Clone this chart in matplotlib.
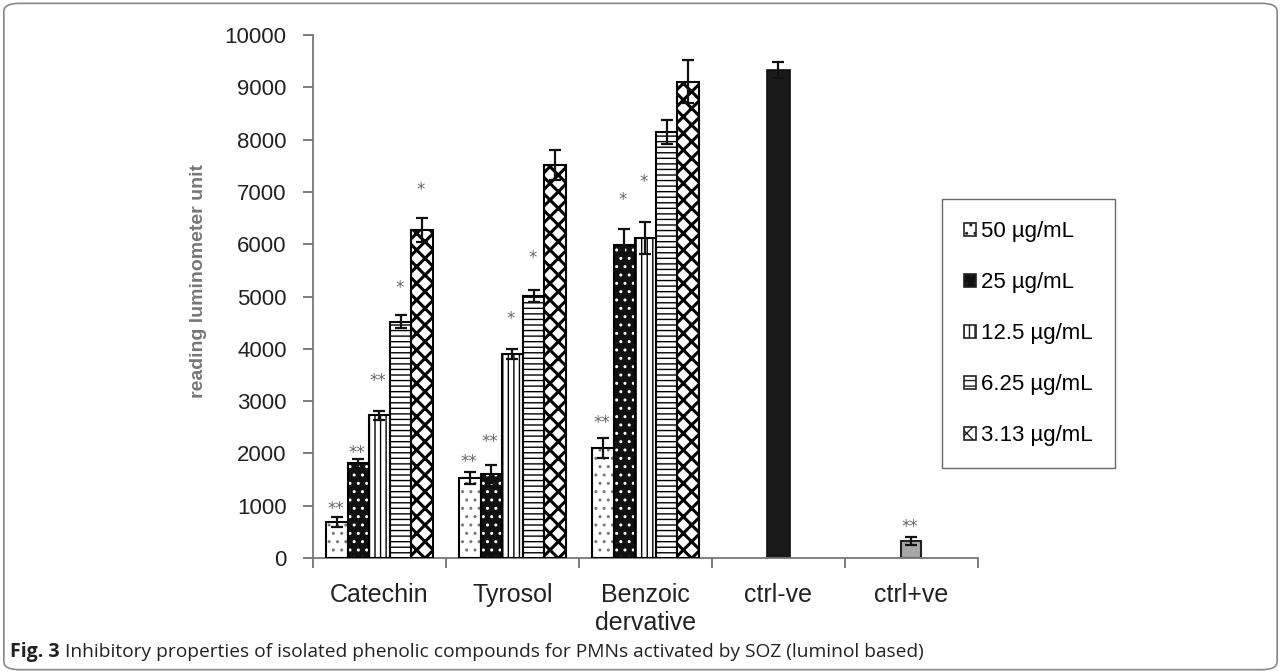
import numpy as np
import matplotlib
matplotlib.use("Agg")
import matplotlib.pyplot as plt
from matplotlib.patches import FancyBboxPatch, Rectangle

plt.rcParams['font.family'] = ['Liberation Sans', 'DejaVu Sans']

categories = ["Catechin", "Tyrosol", "Benzoic\ndervative", "ctrl-ve", "ctrl+ve"]
concs = ["50 µg/mL", "25 µg/mL", "12.5 µg/mL", "6.25 µg/mL", "3.13 µg/mL"]

# values for Catechin, Tyrosol, Benzoic dervative
v50 = [690, 1530, 2100]
v25 = [1810, 1610, 5980]
v12 = [2730, 3900, 6120]
v6 = [4520, 5010, 8150]
v3 = [6270, 7510, 9110]
e50 = [100, 110, 190]
e25 = [80, 170, 320]
e12 = [85, 95, 300]
e6 = [120, 115, 230]
e3 = [230, 285, 410]
ctrl_neg, ctrl_neg_err = 9330, 160
ctrl_pos, ctrl_pos_err = 325, 70

# significance marks: (category, concentration index, text, y)
stars = [(0, 0, "**", 940), (0, 1, "**", 2010), (0, 2, "**", 3380), (0, 3, "*", 5160), (0, 4, "*", 7030),
         (1, 0, "**", 1840), (1, 1, "**", 2220), (1, 2, "*", 4570), (1, 3, "*", 5740),
         (2, 0, "**", 2580), (2, 1, "*", 6850), (2, 2, "*", 7190),
         (4, None, "**", 590)]

vals = [v50, v25, v12, v6, v3]
errs = [e50, e25, e12, e6, e3]
styles = [dict(fc="white", hatch="..", hc="#777777"),
          dict(fc="#111111", hatch="..", hc="white"),
          dict(fc="white", hatch="|||", hc="black"),
          dict(fc="white", hatch="---", hc="black"),
          dict(fc="white", hatch="xx", hc="black")]

fig = plt.figure(figsize=(12.81, 6.71), dpi=100)
fig.patches.append(FancyBboxPatch((0.003, 0.002), 0.994, 0.993, boxstyle="round,pad=0,rounding_size=0.012",
                                  transform=fig.transFigure, fc="none", ec="#888888", lw=1.2))
ax = fig.add_axes([0.2443, 0.1684, 0.5191, 0.7794])

w = 0.16
gx = np.arange(3) + 0.5
handles = []
for j in range(5):
    x = gx + (j - 2) * w
    st = styles[j]
    lw_h = 2.2 if j == 4 else 1.0
    with plt.rc_context({'hatch.linewidth': lw_h}):
        ax.bar(x, vals[j], w, color=st["fc"], edgecolor=st["hc"], hatch=st["hatch"], linewidth=0, zorder=2)
        proxy = Rectangle((0, 0), 1, 1, fc=st["fc"], ec="#222222", hatch=st["hatch"], lw=1.2)
    ax.bar(x, vals[j], w, fill=False, edgecolor="black", linewidth=1.5, zorder=3)
    ax.errorbar(x, vals[j], yerr=errs[j], fmt="none", ecolor="#111111", elinewidth=1.6, capsize=4.5,
                capthick=1.6, zorder=4)
    handles.append(proxy)

ax.bar(3.5, ctrl_neg, 0.17, color="#1a1a1a", edgecolor="#111111", linewidth=1.2, zorder=2)
ax.errorbar(3.5, ctrl_neg, yerr=ctrl_neg_err, fmt="none", ecolor="#111111", elinewidth=1.6, capsize=4.5,
            capthick=1.6, zorder=4)
ax.bar(4.5, ctrl_pos, 0.15, color="#a8a8a8", edgecolor="#222222", linewidth=1.5, zorder=2)
ax.errorbar(4.5, ctrl_pos, yerr=ctrl_pos_err, fmt="none", ecolor="#111111", elinewidth=1.6, capsize=4.5,
            capthick=1.6, zorder=4)

for ci, j, txt, y in stars:
    x = ci + 0.5 + ((j - 2) * w if j is not None else 0)
    ax.text(x - 0.01, y, txt, ha="center", va="center", fontsize=12, color="#666666",
            family="DejaVu Sans", zorder=5)

ax.set_xlim(0, 5)
ax.set_ylim(0, 10000)
ax.set_yticks(np.arange(0, 10001, 1000))
ax.tick_params(axis="y", labelsize=16, length=7, width=1.2, color="#666666", pad=12, labelcolor="#222222")
ax.set_xticks(np.arange(0, 6))
ax.set_xticklabels([])
ax.set_xticks(gx.tolist() + [3.5, 4.5], minor=True)
ax.set_xticklabels(categories, minor=True, fontsize=18, color="#222222")
ax.tick_params(axis="x", which="major", length=7, width=1.2, color="#666666")
ax.tick_params(axis="x", which="minor", length=0, pad=18)
for s in ["top", "right"]:
    ax.spines[s].set_visible(False)
for s in ["left", "bottom"]:
    ax.spines[s].set_color("#777777")
    ax.spines[s].set_linewidth(1.3)

ax.set_ylabel("reading luminometer unit", fontsize=14, color="#777777", fontweight="bold")
ax.yaxis.set_label_coords(-0.16, 0.53)

leg = fig.legend(handles, concs, loc="upper left", bbox_to_anchor=(942 / 1281, 1 - 199 / 671),
                 fontsize=16, frameon=True, fancybox=False, edgecolor="#444444",
                 handlelength=0.55, handleheight=0.55, handletextpad=0.2, labelspacing=1.35,
                 borderpad=1.0, borderaxespad=0)
leg.get_frame().set_linewidth(1.0)

fig.text(10 / 1281, 1 - 652 / 671, "Fig. 3", fontsize=14, fontweight="bold", family="Open Sans",
         va="center", ha="left", color="#222222")
fig.text(65 / 1281, 1 - 652 / 671,
         "Inhibitory properties of isolated phenolic compounds for PMNs activated by SOZ (luminol based)",
         fontsize=13.8, family="Open Sans", va="center", ha="left", color="#222222")

fig.savefig("out.png", dpi=100)
